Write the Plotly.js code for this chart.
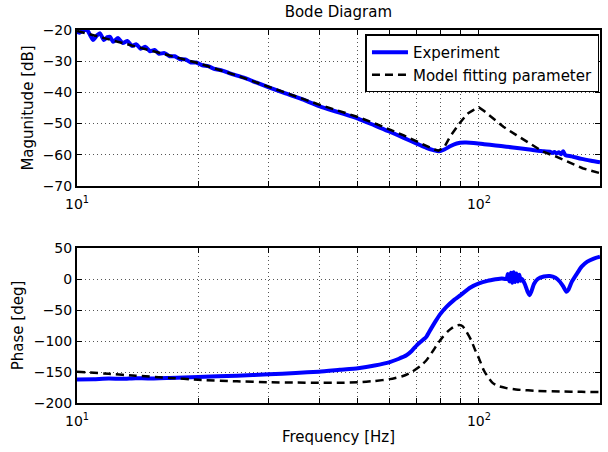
<!DOCTYPE html>
<html>
<head>
<meta charset="utf-8">
<script src="https://cdn.plot.ly/plotly-3.0.1.min.js"></script>
<style>html,body{margin:0;padding:0;background:#fff;}#plot{width:608px;height:452px;}</style>
</head>
<body>
<div id="plot"></div>
<script>
// ---------- data ----------
const magFreqExp = [10.0, 10.15, 10.3, 10.59, 10.8, 10.96, 11.2, 11.4, 11.67, 11.9, 12.08, 12.3, 12.65, 13.0, 13.35, 13.7, 14.05, 14.4, 14.8, 15.2, 15.6, 16.0, 16.5, 17.0, 17.5, 18.0, 18.6, 19.2, 19.8, 20.5, 21.2, 22, 23, 24, 26, 28, 30, 33, 36, 40, 45, 50, 55, 60, 65, 70, 74, 77, 79.5, 82, 85, 88, 92, 97, 103, 110, 117, 126, 135, 145, 150, 152, 154, 156, 158, 160, 162, 164, 170, 180, 190, 200];
const magExp = [-20.6, -20.9, -20.4, -20.0, -21.8, -23.2, -21.8, -21.0, -23.2, -22.3, -22.2, -23.8, -22.6, -24.2, -23.5, -25.1, -24.6, -26.0, -25.4, -26.8, -26.4, -27.6, -27.4, -28.4, -28.4, -29.3, -29.4, -30.4, -30.4, -31.3, -31.6, -32.5, -33.0, -33.9, -35.3, -36.9, -38.4, -40.3, -42.0, -44.4, -46.5, -48.4, -50.6, -52.6, -54.6, -56.4, -57.8, -58.5, -58.9, -58.3, -57.2, -56.4, -56.1, -56.2, -56.6, -57.0, -57.4, -57.9, -58.4, -58.9, -59.0, -59.4, -59.1, -59.6, -59.2, -59.8, -58.9, -60.1, -60.5, -61.3, -61.9, -62.4];

const magFreqModel = [10, 12, 14, 16, 18, 20, 25, 30, 35, 40, 45, 50, 55, 60, 65, 70, 74, 77, 79.3, 82, 84.7, 87, 89.5, 92, 94, 97, 100, 103, 107.3, 111, 115, 123.9, 133.6, 144.4, 155.6, 168, 181, 190, 200];
const magModel = [-20.3, -23.0, -25.3, -27.2, -28.9, -30.6, -34.6, -38.2, -41.3, -43.9, -46.0, -47.9, -49.9, -51.8, -53.8, -55.7, -57.2, -58.2, -58.7, -57.5, -54.2, -52.0, -49.9, -48.0, -46.7, -45.6, -44.8, -46.0, -47.8, -49.5, -51.0, -53.7, -56.3, -59.0, -60.6, -62.5, -64.3, -65.1, -65.9];

const phFreqExp = [10, 11, 12, 13, 14, 15, 17, 20, 25, 30, 35, 40, 45, 50, 55, 60, 63, 66, 68, 70, 72, 74, 76, 78, 80, 83, 86.6, 90, 95, 100, 105, 110, 114, 117, 118, 119, 120, 121, 122, 123, 124, 125, 126, 127, 128, 130, 132, 133.6, 135, 137, 140, 145, 150, 155, 159, 162, 165, 167, 170, 175, 180, 186, 193, 200];
const phExp = [-162, -161.5, -160.5, -161, -160, -160.5, -159.5, -158, -156, -153.8, -151.5, -149.5, -146.5, -143.8, -139.5, -134, -129, -123, -116, -107, -100, -93, -80, -68, -57, -45, -34, -26, -14, -7, -3, -0.5, 1, 0, 8, -4, 10, -6, 11, -5, 9, -4, 7, -3, 0, -8, -20, -26, -20, -8, 0, 4, 4.8, 2, -4.4, -12, -20.4, -17, -5, 8, 20, 28, 33, 36];

const phFreqModel = [10, 12, 14, 17, 20, 25, 30, 35, 40, 45, 50, 55, 60, 64.7, 68, 71.3, 74, 77.1, 79, 81.4, 83.5, 85.5, 87.5, 89.5, 91, 93, 95.5, 97.8, 100, 102.7, 105, 108.3, 112, 117, 125, 140, 160, 180, 200];
const phModel = [-149.5, -153, -156, -159.5, -162.5, -165, -166.5, -167, -167.3, -167.3, -166.5, -164.5, -161.5, -156.5, -150, -141, -131, -114.5, -104, -93, -85, -79.5, -75.5, -74, -76, -84.7, -98, -114.5, -128, -146.8, -157, -168, -173, -176, -178.5, -180.5, -181.5, -182, -182.5];

const xMajorVals = [10, 100];
const xMajorText = ['10<sup>1</sup>', '10<sup>2</sup>'];
const xMinorVals = [20, 30, 40, 50, 60, 70, 80, 90, 200];
const seriesNames = ['Experiment', 'Model fitting parameter'];

// ---------- styling ----------
const FONT = 'DejaVu Sans, sans-serif';
const GRID = '#555';
const GRIDDASH = '1px,3px';
const expLine = {color: '#0000ff', width: 4};
const modelLine = {color: '#000000', width: 2.5, dash: '8px,5px'};

const traces = [
  {x: magFreqExp, y: magExp, xaxis: 'x', yaxis: 'y', mode: 'lines', name: seriesNames[0], line: Object.assign({shape: 'spline', smoothing: 0.6}, expLine)},
  {x: magFreqModel, y: magModel, xaxis: 'x', yaxis: 'y', mode: 'lines', name: seriesNames[1], line: modelLine},
  {x: phFreqExp, y: phExp, xaxis: 'x2', yaxis: 'y2', mode: 'lines', name: seriesNames[0], line: Object.assign({shape: 'spline', smoothing: 0.5}, expLine), showlegend: false},
  {x: phFreqModel, y: phModel, xaxis: 'x2', yaxis: 'y2', mode: 'lines', name: seriesNames[1], line: Object.assign({shape: 'spline', smoothing: 0.5}, modelLine), showlegend: false}
];

function xAx(anchor, title) {
  const a = {
    type: 'log', range: [1, Math.log10(200)], anchor: anchor, domain: [0, 1],
    tickmode: 'array', tickvals: xMajorVals, ticktext: xMajorText,
    ticks: 'inside', ticklen: 5, tickwidth: 1, tickcolor: '#000', ticklabelstandoff: 4,
    minor: {tickmode: 'array', tickvals: xMinorVals, ticks: 'inside', ticklen: 5, tickwidth: 1, tickcolor: '#000',
            showgrid: true, gridcolor: GRID, griddash: GRIDDASH, gridwidth: 1},
    showline: true, linewidth: 2, linecolor: '#000', mirror: 'ticks',
    showgrid: true, gridcolor: GRID, griddash: GRIDDASH, gridwidth: 1,
    zeroline: false, tickfont: {family: FONT, size: 14, color: '#000'}
  };
  if (title) a.title = {text: title, font: {family: FONT, size: 15, color: '#000'}, standoff: 4};
  return a;
}
function yAx(anchor, domain, range, dtick, title, standoff) {
  return {
    anchor: anchor, domain: domain, range: range, dtick: dtick, tick0: range[0],
    ticks: 'inside', ticklen: 5, tickwidth: 1, tickcolor: '#000',
    showline: true, linewidth: 2, linecolor: '#000', mirror: 'ticks',
    showgrid: true, gridcolor: GRID, griddash: GRIDDASH, gridwidth: 1,
    zeroline: false, tickfont: {family: FONT, size: 14, color: '#000'},
    title: {text: title, font: {family: FONT, size: 15, color: '#000'}, standoff: standoff}
  };
}

const layout = {
  width: 608, height: 452,
  margin: {l: 77, r: 8, t: 30, b: 49},
  paper_bgcolor: '#fff', plot_bgcolor: '#fff',
  font: {family: FONT, size: 14, color: '#000'},
  title: {text: 'Bode Diagram', font: {family: FONT, size: 15, color: '#000'}, x: 0.5565, xanchor: 'center', y: 0.973, yanchor: 'middle', yref: 'container'},
  xaxis: xAx('y'),
  yaxis: yAx('x', [0.5818, 1], [-70, -20], 10, 'Magunitude [dB]', 5),
  xaxis2: xAx('y2', 'Frequency [Hz]'),
  yaxis2: yAx('x2', [0, 0.4155], [-200, 50], 50, 'Phase [deg]', 6),
  showlegend: true,
  legend: {x: 0.999, xanchor: 'right', y: 0.988, yanchor: 'top', bgcolor: '#fff', bordercolor: '#000', borderwidth: 1.5,
           font: {family: FONT, size: 15, color: '#000'}, tracegroupgap: 0, itemwidth: 36}
};

Plotly.newPlot('plot', traces, layout, {staticPlot: true, displayModeBar: false});
</script>
</body>
</html>
